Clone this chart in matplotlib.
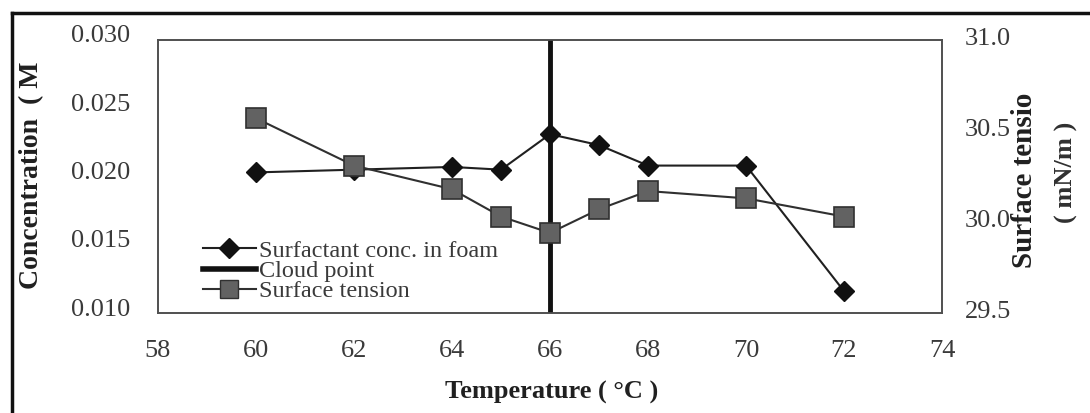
import matplotlib
matplotlib.use("Agg")
import matplotlib.pyplot as plt
import matplotlib.transforms as mtransforms
from matplotlib.lines import Line2D

temps = [60, 62, 64, 65, 66, 67, 68, 70, 72]
conc_foam = [0.0203, 0.0205, 0.0207, 0.0205, 0.0231, 0.0223, 0.0208, 0.0208, 0.0116]
surf_tension = [30.57, 30.31, 30.18, 30.03, 29.94, 30.07, 30.17, 30.13, 30.03]
cloud_point = 66
xticks = [58, 60, 62, 64, 66, 68, 70, 72, 74]
left_ticks = [0.010, 0.015, 0.020, 0.025, 0.030]
right_ticks = [29.5, 30.0, 30.5, 31.0]

plt.rcParams['font.family'] = ['Liberation Serif', 'DejaVu Serif']

fig = plt.figure(figsize=(10.9, 4.13), dpi=100)
ax = fig.add_axes([158/1090, 1-313/413, (942-158)/1090, (313-40)/413])
ax2 = ax.twinx()

tc = '#3a3a3a'
for a in (ax, ax2):
    for s in a.spines.values():
        s.set_color('#505050')
        s.set_linewidth(1.2)

ax.set_xlim(58, 74)
ax.set_ylim(0.010, 0.030)
ax2.set_ylim(29.5, 31.0)
ax.set_xticks(xticks)
ax.set_yticks(left_ticks)
ax.set_yticklabels([f"{v:.3f}" for v in left_ticks])
ax2.set_yticks(right_ticks)
ax2.set_yticklabels([f"{v:.1f}" for v in right_ticks])
ax.tick_params(axis='x', length=0, pad=19.5, labelsize=19, labelcolor=tc)
ax.tick_params(axis='y', length=0, pad=20, labelsize=19, labelcolor=tc)
ax2.tick_params(axis='y', length=0, pad=16.5, labelsize=19, labelcolor=tc)

off_l = mtransforms.ScaledTranslation(0, 6/100, fig.dpi_scale_trans)
for lab in ax.get_yticklabels():
    lab.set_transform(lab.get_transform() + off_l)
off_r = mtransforms.ScaledTranslation(0, 3/100, fig.dpi_scale_trans)
for lab in ax2.get_yticklabels():
    lab.set_transform(lab.get_transform() + off_r)

ax.plot(temps, conc_foam, color='#202020', lw=1.5, marker='D', markersize=10,
        markerfacecolor='#111111', markeredgecolor='#111111', zorder=3)
ax.axvline(cloud_point, color='#111111', lw=3.5, zorder=4)
ax2.plot(temps, surf_tension, color='#303030', lw=1.5, marker='s', markersize=14,
         markerfacecolor='#626262', markeredgecolor='#303030', markeredgewidth=1.2, zorder=3)

handles = [
    Line2D([], [], color='#202020', lw=1.5, marker='D', markersize=10,
           markerfacecolor='#111111', markeredgecolor='#111111'),
    Line2D([], [], color='#111111', lw=4),
    Line2D([], [], color='#303030', lw=1.5, marker='s', markersize=13,
           markerfacecolor='#626262', markeredgecolor='#303030'),
]
labels = ["Surfactant conc. in foam", "Cloud point", "Surface tension"]
leg = ax2.legend(handles, labels, loc='lower left', bbox_to_anchor=(0.057, 0.04),
                 frameon=False, fontsize=17.5, labelspacing=-0.08, handlelength=2.2,
                 handletextpad=0.1, borderpad=0, borderaxespad=0)
for t in leg.get_texts():
    t.set_color(tc)

fig.text(552/1090, 1-392/413, "Temperature ( °C )", ha='center', va='center',
         fontsize=19, fontweight='bold', color='#202020')
fig.text(32/1090, 1-175/413, "Concentration  ( M", ha='center', va='center',
         rotation=90, fontsize=20, fontweight='bold', color='#202020')
fig.text(1024/1090, 1-180/413, "Surface tensio", ha='center', va='center',
         rotation=90, fontsize=21, fontweight='bold', color='#202020')
fig.text(1066/1090, 1-172/413, "( mN/m )", ha='center', va='center',
         rotation=90, fontsize=19, fontweight='bold', color='#303030')

# outer frame (top and left edges)
fig.add_artist(Line2D([12/1090, 1.0], [1-13/413, 1-13/413], color='#111111', lw=2.5,
                      transform=fig.transFigure))
fig.add_artist(Line2D([12/1090, 12/1090], [0, 1-13/413], color='#111111', lw=2.5,
                      transform=fig.transFigure))

fig.savefig("out.png", dpi=100, facecolor='white')
